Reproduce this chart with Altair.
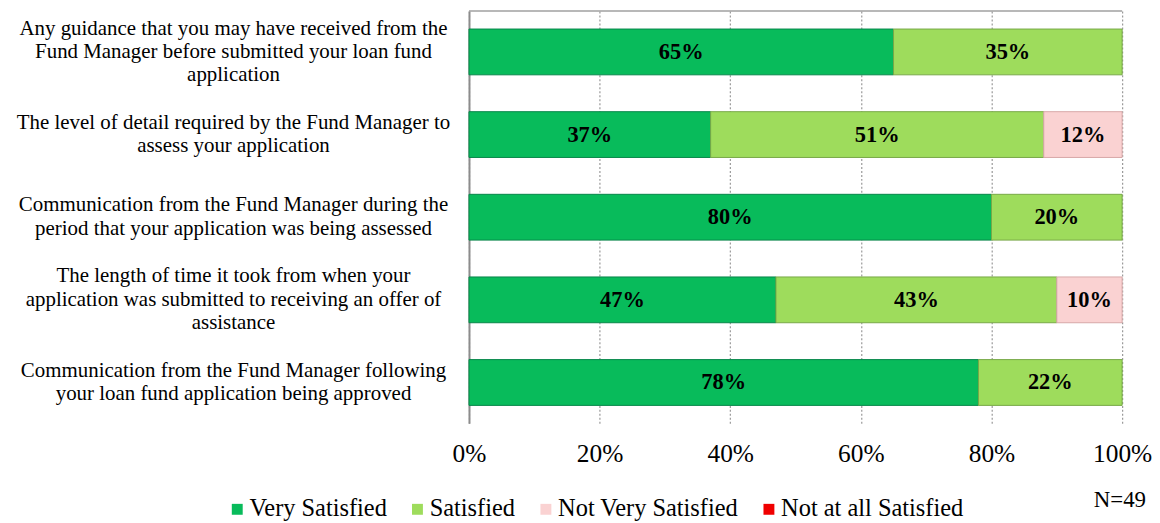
import altair as alt
import pandas as pd

questions = [
    "Any guidance that you may have received from the|Fund Manager before submitted your loan fund|application",
    "The level of detail required by the Fund Manager to|assess your application",
    "Communication from the Fund Manager during the|period that your application was being assessed",
    "The length of time it took from when your|application was submitted to receiving an offer of|assistance",
    "Communication from the Fund Manager following|your loan fund application being approved",
]
levels = ["Very Satisfied", "Satisfied", "Not Very Satisfied", "Not at all Satisfied"]
very_satisfied = [65, 37, 80, 47, 78]
satisfied = [35, 51, 20, 43, 22]
not_very = [0, 12, 0, 10, 0]
not_at_all = [0, 0, 0, 0, 0]
colors = ["#08bb5b", "#9edc5c", "#fad2d2", "#f00000"]
strokes = ["#07864a", "#78a848", "#d8a8a8", "#a00000"]

rows = []
for series, lvl in zip([very_satisfied, satisfied, not_very, not_at_all], levels):
    for q, v in zip(questions, series):
        rows.append({"q": q, "level": lvl, "order": levels.index(lvl), "value": v / 100})
df = pd.DataFrame(rows)

W, H = 656, 414
LH = 23.5

y_enc = alt.Y("q:N", sort=questions, title=None,
              scale=alt.Scale(paddingInner=0.446, paddingOuter=0.217),
              axis=alt.Axis(labelExpr="split(datum.label, '|')", labelFont="Liberation Serif",
                            labelFontSize=21, labelColor="black", labelLineHeight=LH,
                            labelLimit=600, labelPadding=237, labelAlign="center",
                            labelOffset={"condition": {"test": "length(split(datum.label, '|')) == 3",
                                                       "value": -LH},
                                         "value": -LH / 2},
                            ticks=False, domain=True,
                            domainColor="#8c8c8c", domainWidth=2, grid=False))
x_enc = alt.X("value:Q", stack="zero", title=None,
              scale=alt.Scale(domain=[0, 1]),
              axis=alt.Axis(format="%", values=[0, 0.2, 0.4, 0.6, 0.8, 1.0], labelFont="Liberation Serif",
                            labelFontSize=25.5, labelColor="black", labelPadding=18, ticks=False,
                            domain=False, grid=True, gridDash=[2, 2], gridColor="#999999",
                            gridWidth=1.2, labelFlush=False))

bars = alt.Chart(df).transform_filter("datum.value > 0").mark_bar(strokeWidth=1).encode(
    x=x_enc,
    y=y_enc,
    color=alt.Color("level:N", sort=levels, title=None,
                    scale=alt.Scale(domain=levels, range=colors),
                    legend=alt.Legend(orient="none", legendX=-245, legendY=488, direction="horizontal",
                                      symbolType="square", symbolSize=120, symbolStrokeWidth=0,
                                      labelFont="Liberation Serif", labelFontSize=24.5, labelColor="black",
                                      columnPadding=18, labelOffset=0, labelLimit=400)),
    stroke=alt.Stroke("level:N", scale=alt.Scale(domain=levels, range=strokes), legend=None),
    order=alt.Order("order:Q"),
)

labels = alt.Chart(df).transform_filter("datum.value > 0").transform_stack(
    stack="value", groupby=["q"], sort=[alt.SortField("order")], as_=["v0", "v1"]
).transform_calculate(mid="(datum.v0 + datum.v1) / 2").mark_text(
    font="Liberation Serif", fontSize=22.5, fontWeight="bold", color="black"
).encode(
    x=alt.X("mid:Q"),
    y=alt.Y("q:N", sort=questions),
    text=alt.Text("value:Q", format=".0%"),
)

top_line = alt.Chart(pd.DataFrame({"a": [0]})).mark_rule(color="#a0a0a0", strokeWidth=1.5).encode(
    x=alt.value(0), x2=alt.value(W), y=alt.value(0)
)

note = alt.Chart(pd.DataFrame({"t": ["N=49"]})).mark_text(
    font="Liberation Serif", fontSize=23, color="black", align="right", baseline="middle"
).encode(x=alt.value(680), y=alt.value(491), text="t:N")

chart = alt.layer(bars, labels, top_line, note).properties(
    width=W, height=H, padding={"left": 8, "top": 1, "right": 0, "bottom": 0}
).configure_view(stroke=None)

chart.save("out.html", embed_options={"renderer": "svg", "actions": False})
